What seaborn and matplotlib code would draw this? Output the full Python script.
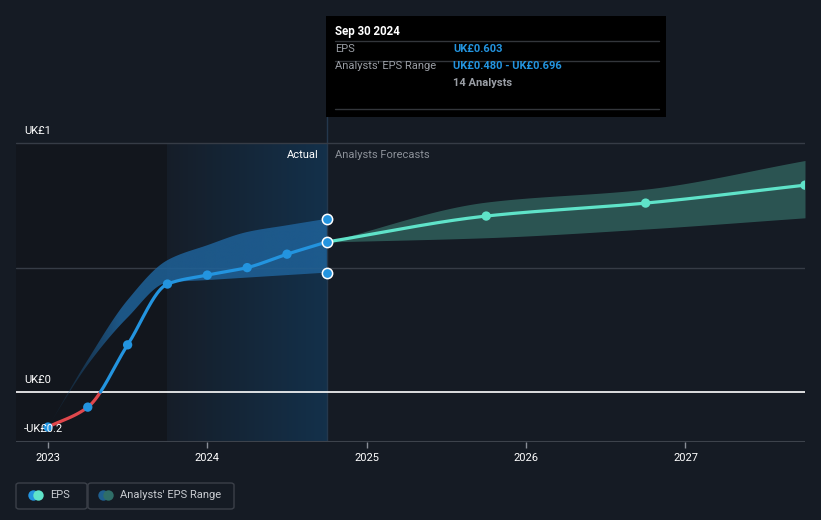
import numpy as np
import pandas as pd
import matplotlib
matplotlib.use("Agg")
import matplotlib.pyplot as plt
import matplotlib.transforms as mtransforms
from matplotlib.patches import FancyBboxPatch, Rectangle
from matplotlib.lines import Line2D
from matplotlib.colors import to_rgb
import seaborn as sns

# ---------------- data ----------------
actual_x = [2023.0, 2023.25, 2023.5, 2023.75, 2024.0, 2024.25, 2024.5, 2024.75]
actual_eps = [-0.14, -0.06, 0.19, 0.434, 0.47, 0.50, 0.554, 0.603]
range_x = [2023.0, 2023.25, 2023.5, 2023.75, 2024.0, 2024.25, 2024.5, 2024.75]
range_low = [-0.14, 0.11, 0.30, 0.44, 0.45, 0.46, 0.47, 0.48]
range_high = [-0.14, 0.13, 0.37, 0.53, 0.59, 0.643, 0.67, 0.696]
forecast_x = [2024.75, 2025.75, 2026.75, 2027.75]
forecast_eps = [0.603, 0.707, 0.759, 0.831]
forecast_low = [0.603, 0.62, 0.655, 0.70]
forecast_high = [0.603, 0.763, 0.815, 0.93]
year_ticks = [2023, 2024, 2025, 2026, 2027]
y_labels = {1.0: "UK£1", 0.0: "UK£0", -0.2: "-UK£0.2"}

BG = "#151b24"
BLUE = "#2394df"
RED = "#e0474c"
MINT = "#5fe3c9"
GRID = "#363c46"


def smooth(x, y, n=300):
    """Monotone cubic Hermite curve through the given points (for drawing)."""
    x = np.asarray(x, float)
    y = np.asarray(y, float)
    h = np.diff(x)
    d = np.diff(y) / h
    m = np.zeros_like(y)
    for k in range(1, len(y) - 1):
        if d[k - 1] * d[k] > 0:
            w1 = 2 * h[k] + h[k - 1]
            w2 = h[k] + 2 * h[k - 1]
            m[k] = (w1 + w2) / (w1 / d[k - 1] + w2 / d[k])
    m[0] = d[0]
    m[-1] = d[-1]
    xs = np.linspace(x[0], x[-1], n)
    idx = np.clip(np.searchsorted(x, xs, side="right") - 1, 0, len(h) - 1)
    t = (xs - x[idx]) / h[idx]
    h00 = 2 * t**3 - 3 * t**2 + 1
    h10 = t**3 - 2 * t**2 + t
    h01 = -2 * t**3 + 3 * t**2
    h11 = t**3 - t**2
    ys = h00 * y[idx] + h10 * h[idx] * m[idx] + h01 * y[idx + 1] + h11 * h[idx] * m[idx + 1]
    return xs, ys


sns.set_theme(style="dark")
plt.rcParams["font.family"] = ["Roboto", "DejaVu Sans"]

fig = plt.figure(figsize=(8.21, 5.2), dpi=100, facecolor=BG)
W, H = 821, 520
x0, x1 = 16, 805
y_top, y_bot = 17, 442
ax = fig.add_axes([x0 / W, 1 - y_bot / H, (x1 - x0) / W, (y_bot - y_top) / H])
ax.set_facecolor(BG)
for s in ax.spines.values():
    s.set_visible(False)

xmin = 2023 - 32 / 159.75
xmax = 2027.75
ymin = -0.2
ymax = 1 + (143 - y_top) / 249.0
ax.set_xlim(xmin, xmax)
ax.set_ylim(ymin, ymax)

# shaded backgrounds
ax.fill_between([xmin, 2023.75], ymin, 1.0, color="#12161d", zorder=0, linewidth=0)
c_a = np.array(to_rgb("#151d28"))
c_b = np.array(to_rgb("#13304a"))
edges = np.linspace(2023.75, 2024.75, 161)
for i in range(160):
    f = (i + 0.5) / 160
    ax.fill_between([edges[i], edges[i + 1]], ymin, 1.0, color=tuple(c_a + (c_b - c_a) * f),
                    linewidth=0, zorder=0.5, antialiased=False)
ax.axvline(2024.75, ymin=0, ymax=1, color="#24384d", linewidth=1, zorder=1)

# grid lines
ax.axhline(1.0, color=GRID, linewidth=1, zorder=1)
ax.axhline(0.5, color=GRID, linewidth=1, zorder=1)
ax.axhline(-0.2, color="#3d434c", linewidth=1.5, zorder=3)
ax.axhline(0.0, color="#ffffff", linewidth=1.2, zorder=2)

# analyst range for the actual period: fades in from the left
rx, rl = smooth(range_x, range_low)
_, rh = smooth(range_x, range_high)
band = ax.fill_between(rx, rl, rh, color="none", linewidth=0, zorder=2)
xs_img = np.linspace(range_x[0], range_x[-1], 600)
alpha = np.clip((xs_img - range_x[0]) / 0.45, 0, 1) * 0.85
rgba = np.zeros((1, len(xs_img), 4))
rgba[..., :3] = to_rgb("#1f6299")
rgba[..., 3] = alpha
img = ax.imshow(rgba, extent=[range_x[0], range_x[-1], min(rl) - 0.01, max(rh) + 0.01],
                aspect="auto", zorder=2, interpolation="bilinear")
img.set_clip_path(band.get_paths()[0], transform=ax.transData)

fx, fl = smooth(forecast_x, forecast_low)
_, fh = smooth(forecast_x, forecast_high)
ax.fill_between(fx, fl, fh, color="#2e5b58", alpha=0.9, linewidth=0, zorder=2)

# actual EPS line (red below zero)
ax_s, ay_s = smooth(actual_x, actual_eps)
cross = np.interp(0.0, ay_s, ax_s)
neg = ay_s <= 0
red_df = pd.DataFrame({"x": np.append(ax_s[neg], cross), "y": np.append(ay_s[neg], 0.0)})
blue_df = pd.DataFrame({"x": np.insert(ax_s[~neg], 0, cross), "y": np.insert(ay_s[~neg], 0, 0.0)})
sns.lineplot(data=red_df, x="x", y="y", ax=ax, color=RED, linewidth=2.3, sort=False,
             estimator=None, zorder=4)
sns.lineplot(data=blue_df, x="x", y="y", ax=ax, color=BLUE, linewidth=2.3, sort=False,
             estimator=None, zorder=4)

# forecast line
fxs, fys = smooth(forecast_x, forecast_eps)
sns.lineplot(x=fxs, y=fys, ax=ax, color=MINT, linewidth=2.3, sort=False,
             estimator=None, zorder=4)

# points
sns.scatterplot(x=actual_x[:-1], y=actual_eps[:-1], ax=ax, color=BLUE, s=45,
                edgecolor="none", zorder=5)
sns.scatterplot(x=forecast_x[1:], y=forecast_eps[1:], ax=ax, color=MINT, s=45,
                edgecolor="none", zorder=5)
sns.scatterplot(x=[actual_x[-1]] * 3, y=[actual_eps[-1], range_low[-1], range_high[-1]],
                ax=ax, color=BLUE, s=55, edgecolor="white", linewidth=1.1, zorder=6)

# y labels above grid lines
for val, lab in y_labels.items():
    tr = mtransforms.offset_copy(ax.get_yaxis_transform(), fig=fig, x=0, y=12.5, units="dots")
    ax.text((24 - x0) / (x1 - x0), val, lab, transform=tr, color="white", fontsize=8,
            va="center", ha="left", zorder=7)

# x ticks
ax.set_xticks(year_ticks)
ax.set_xticklabels([str(v) for v in year_ticks])
ax.tick_params(axis="x", colors="#8a8f98", labelcolor="white", labelsize=8, length=4,
               width=1, pad=4, bottom=True, direction="out")
ax.tick_params(axis="y", left=False, labelleft=False)
ax.set_xlabel("")
ax.set_ylabel("")
ax.grid(False)

# Actual / Analysts Forecasts labels
ax.text(2024.75 - 8 / 159.75, 1 - 12 / 249, "Actual", color="white", fontsize=8,
        ha="right", va="center", zorder=7)
ax.text(2024.75 + 8 / 159.75, 1 - 12 / 249, "Analysts Forecasts", color="#8c9199",
        fontsize=8, ha="left", va="center", zorder=7)


# tooltip box
def fx_(px):
    return px / W


def fy_(py):
    return 1 - py / H


fig.patches.append(Rectangle((fx_(326), fy_(117)), (666 - 326) / W, (117 - 16) / H,
                             transform=fig.transFigure, facecolor="#000000",
                             edgecolor="none", zorder=10))
for yy in (41, 61, 109):
    fig.lines.append(Line2D([fx_(335), fx_(659)], [fy_(yy), fy_(yy)],
                            transform=fig.transFigure, color="#33363b", linewidth=1,
                            zorder=11))
fig.text(fx_(335), fy_(31), "Sep 30 2024", color="white", fontsize=8.3,
         fontweight="bold", va="center", zorder=12)
fig.text(fx_(335), fy_(49), "EPS", color="#9a9ea5", fontsize=8, va="center", zorder=12)
fig.text(fx_(453), fy_(49), "UK£0.603", color=BLUE, fontsize=8, fontweight="bold",
         va="center", zorder=12)
fig.text(fx_(335), fy_(66), "Analysts' EPS Range", color="#9a9ea5", fontsize=8,
         va="center", zorder=12)
fig.text(fx_(453), fy_(66), "UK£0.480 - UK£0.696", color=BLUE, fontsize=8,
         fontweight="bold", va="center", zorder=12)
fig.text(fx_(453), fy_(83), "14 Analysts", color="#9a9ea5", fontsize=8,
         fontweight="bold", va="center", zorder=12)


# legend
def legend_item(xl, xr, c1, c2, label, text_x):
    fig.patches.append(FancyBboxPatch((fx_(xl), fy_(509)), (xr - xl) / W, (509 - 483) / H,
                                      boxstyle="round,pad=0,rounding_size=0.004",
                                      transform=fig.transFigure, facecolor="none",
                                      edgecolor="#3b4049", linewidth=1))
    fig.lines.append(Line2D([fx_(text_x - 17)], [fy_(495)], transform=fig.transFigure,
                            marker="o", markersize=7.5, color=c1, markeredgewidth=0))
    fig.lines.append(Line2D([fx_(text_x - 12)], [fy_(495)], transform=fig.transFigure,
                            marker="o", markersize=7.5, color=c2, markeredgewidth=0))
    fig.text(fx_(text_x), fy_(495), label, color="#c9ccd1", fontsize=8, va="center")


legend_item(16, 87, BLUE, MINT, "EPS", 50)
legend_item(88, 234, "#1f5f8f", "#2f6e68", "Analysts' EPS Range", 120)

fig.savefig("out.png", dpi=100, facecolor=BG)
